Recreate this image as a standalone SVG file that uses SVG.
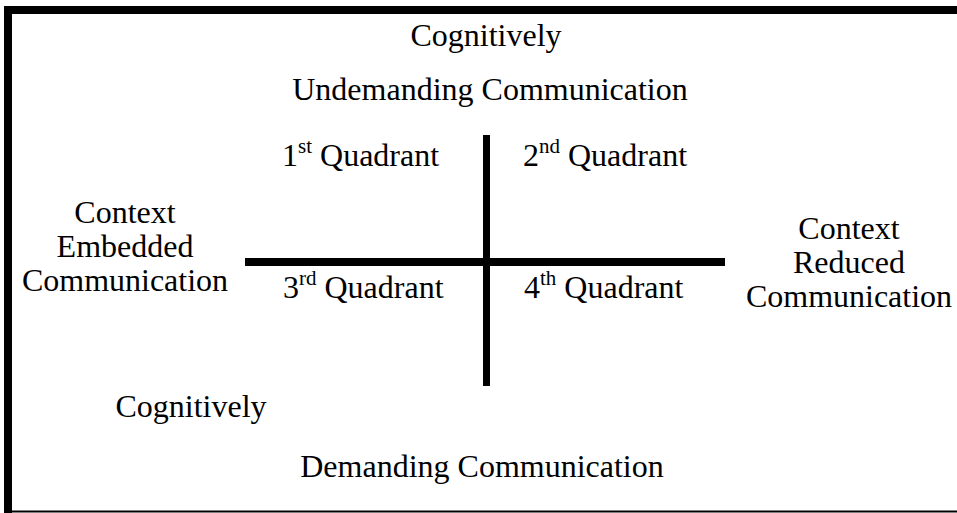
<svg xmlns="http://www.w3.org/2000/svg" width="957" height="513" viewBox="0 0 957 513">
<style>
text { font-family: "Liberation Serif", "Times New Roman", serif; font-size: 32px; fill: #000; }
.c { text-anchor: middle; }
.sup { font-size: 21px; }
.ln { stroke: #000; fill: none; }
</style>
<rect x="0" y="0" width="957" height="513" fill="#fff"/>
<g id="frame">
<line class="ln" x1="8" y1="6" x2="8" y2="513" stroke-width="8"/>
<line class="ln" x1="4" y1="10" x2="957" y2="10" stroke-width="8"/>
<line class="ln" x1="4" y1="511.5" x2="957" y2="511.5" stroke-width="2"/>
</g>
<g id="connectors">
<line class="ln" x1="486.5" y1="135" x2="486.5" y2="386" stroke-width="7"/>
<line class="ln" x1="245" y1="262" x2="725" y2="262" stroke-width="8"/>
</g>
<g id="top-label">
<text class="c" x="486" y="46">Cognitively</text>
<text class="c" x="490" y="100">Undemanding Communication</text>
</g>
<g id="q1"><text x="282" y="166">1<tspan class="sup" dy="-13">st</tspan><tspan dy="13"> Quadrant</tspan></text></g>
<g id="q2"><text x="523" y="166">2<tspan class="sup" dy="-13">nd</tspan><tspan dy="13"> Quadrant</tspan></text></g>
<g id="q3"><text x="283" y="298">3<tspan class="sup" dy="-13">rd</tspan><tspan dy="13"> Quadrant</tspan></text></g>
<g id="q4"><text x="524" y="298">4<tspan class="sup" dy="-13">th</tspan><tspan dy="13"> Quadrant</tspan></text></g>
<g id="left-label">
<text class="c" x="125" y="223">Context</text>
<text class="c" x="125" y="257">Embedded</text>
<text class="c" x="125" y="291">Communication</text>
</g>
<g id="right-label">
<text class="c" x="849" y="239">Context</text>
<text class="c" x="849" y="273">Reduced</text>
<text class="c" x="849" y="307">Communication</text>
</g>
<g id="bottom-label">
<text class="c" x="191" y="417">Cognitively</text>
<text class="c" x="482" y="477">Demanding Communication</text>
</g>
</svg>
